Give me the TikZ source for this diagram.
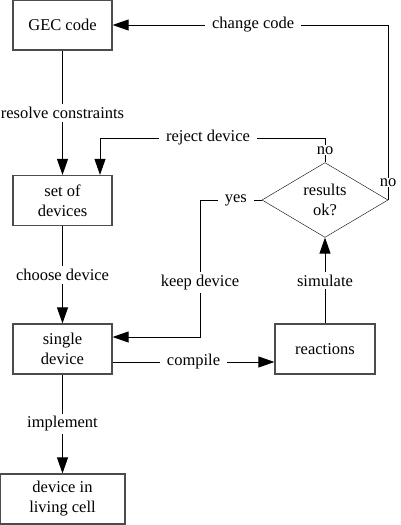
\documentclass[tikz,border=0pt]{standalone}
\usepackage{fontspec}
\setmainfont{Liberation Serif}
\newfontfamily\flowfont{Liberation Serif}
\usetikzlibrary{arrows.meta}
\usetikzlibrary{shapes.geometric}

\begin{document}
\begin{tikzpicture}[x=1pt, y=1pt, >={Triangle[length=16pt,width=11pt]},
    every node/.style={font=\flowfont\fontsize{16.5}{20}\selectfont},
    box/.style={draw=black!70, line width=1.2pt, align=center, minimum width=99pt, minimum height=50pt, inner sep=0pt},
    test/.style={draw, diamond, align=center, minimum width=126pt, minimum height=74pt, inner sep=0pt},
    lbl/.style={fill=white, inner xsep=7pt, inner ysep=3pt},
    flow/.style={->, line width=0.9pt}]

    \useasboundingbox (0,0) rectangle (400,-525);

    \node[box] (gec) at (62.5,-25) {GEC code};
    \node[box] (set) at (62.5,-200.5) {set of\\devices};
    \node[box] (single) at (62.5,-349) {single\\device};
    \node[box, minimum width=125pt] (cell) at (62.5,-499) {device in\\living cell};
    \node[box, minimum width=100pt] (react) at (325,-349) {reactions};
    \node[test] (ok) at (325,-200) {results\\ok?};

    \coordinate (yesbend) at (200,-200);
    \coordinate (rejbend) at (325,-138);

    \draw[flow] (gec) -- node[lbl]{resolve constraints} (set);
    \draw[flow] (set) -- node[lbl]{choose device} (single);
    \draw[flow] (single) -- node[lbl]{implement} (cell);
    \draw[flow] ([yshift=-13]single.east) -- node[lbl]{compile} ([yshift=-13]react.west);
    \draw[flow] (react) -- node[lbl]{simulate} (ok);

    \draw[flow] (ok.west) -- node[lbl, pos=0.42]{yes} (yesbend) |- node[lbl, pos=0.3]{keep device} ([yshift=12]single.east);
    \draw[flow] (ok.north) -- node[lbl, inner ysep=1pt]{no} (rejbend) -| node[lbl, pos=0.26]{reject device} ([xshift=37.5]set.north);
    \draw[flow] (ok.east) |- node[lbl, pos=0.05, inner ysep=1pt]{no} node[lbl, pos=0.745]{change code} (gec.east);

\end{tikzpicture}
\end{document}
